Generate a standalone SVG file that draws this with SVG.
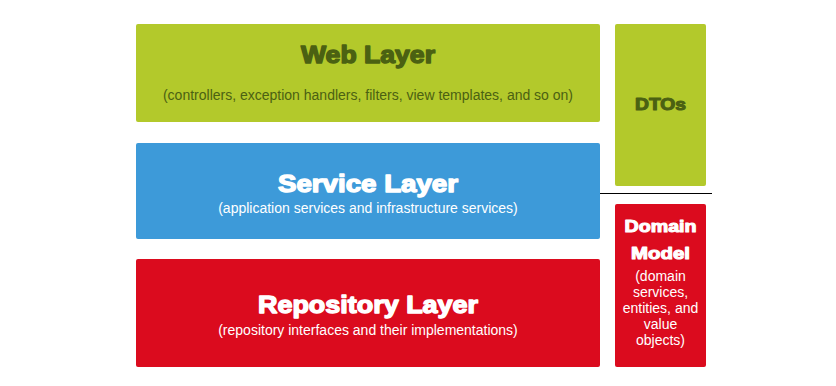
<svg xmlns="http://www.w3.org/2000/svg" width="836" height="386" viewBox="0 0 836 386">
  <style>
    .green { fill: #B3C92B; }
    .blue { fill: #3D9AD9; }
    .red { fill: #DB0B1E; }
    text { font-family: "Liberation Sans", Arial, sans-serif; text-anchor: middle; }
    .title { font-size: 24px; font-weight: bold; stroke-width: 1.4; stroke-linejoin: round; }
    .side { font-size: 17px; font-weight: bold; stroke-width: 1.1; stroke-linejoin: round; }
    .sub { font-size: 14px; }
    .dark { fill: #4B6112; stroke: #4B6112; }
    .light { fill: #FFFFFF; stroke: #FFFFFF; }
    .subdark { fill: #4B6112; }
    .sublight { fill: #FFFFFF; }
  </style>
  <rect width="836" height="386" fill="#FFFFFF"/>

  <g id="web-layer">
    <rect class="green" x="136" y="24" width="464" height="98" rx="2"/>
    <text class="title dark" x="368" y="63" textLength="134" lengthAdjust="spacingAndGlyphs">Web Layer</text>
    <text class="sub subdark" x="368" y="100">(controllers, exception handlers, filters, view templates, and so on)</text>
  </g>

  <g id="service-layer">
    <rect class="blue" x="136" y="143" width="464" height="96" rx="2"/>
    <text class="title light" x="368" y="192" textLength="180" lengthAdjust="spacingAndGlyphs">Service Layer</text>
    <text class="sub sublight" x="368" y="213">(application services and infrastructure services)</text>
  </g>

  <g id="repository-layer">
    <rect class="red" x="136" y="259" width="464" height="108" rx="2"/>
    <text class="title light" x="368" y="313" textLength="220" lengthAdjust="spacingAndGlyphs">Repository Layer</text>
    <text class="sub sublight" x="368" y="335">(repository interfaces and their implementations)</text>
  </g>

  <g id="dtos">
    <rect class="green" x="615" y="24" width="91" height="162" rx="2"/>
    <text class="side dark" x="660.5" y="110" textLength="51" lengthAdjust="spacingAndGlyphs">DTOs</text>
  </g>

  <g id="domain-model">
    <rect class="red" x="615" y="204" width="91" height="163" rx="2"/>
    <text class="side light" x="660.5" y="232" textLength="72" lengthAdjust="spacingAndGlyphs">Domain</text>
    <text class="side light" x="660.5" y="259" textLength="59" lengthAdjust="spacingAndGlyphs">Model</text>
    <text class="sub sublight" x="660.5" y="281">(domain</text>
    <text class="sub sublight" x="660.5" y="297">services,</text>
    <text class="sub sublight" x="660.5" y="313">entities, and</text>
    <text class="sub sublight" x="660.5" y="329">value</text>
    <text class="sub sublight" x="660.5" y="345">objects)</text>
  </g>

  <g id="connectors">
    <line x1="600" y1="193.5" x2="712" y2="193.5" stroke="#000000" stroke-width="1"/>
  </g>
</svg>
